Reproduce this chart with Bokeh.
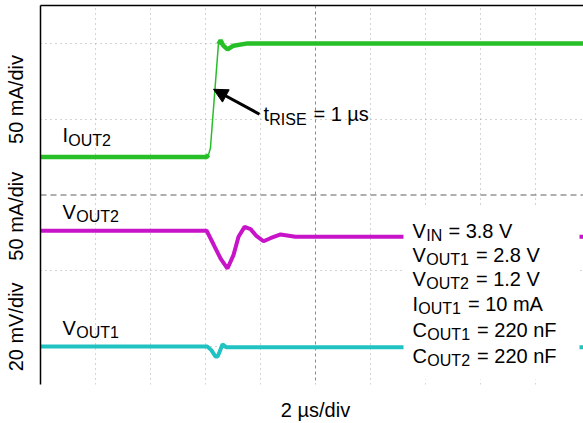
import math
from bokeh.plotting import figure
from bokeh.models import (Label, Span, BoxAnnotation, Arrow, NormalHead,
                          FixedTicker, Range1d, LinearAxis)
from bokeh.embed import file_html
from bokeh.resources import INLINE

# ---------------- data ----------------
# time in microseconds (2 us/div); vertical values in screen divisions
iout2_t   = [0.0, 6.04, 6.11, 6.18, 6.47, 6.55, 6.65, 6.80, 7.02, 7.53, 20.0]
iout2_div = [0.50, 0.50, 0.53, 0.62, 1.99, 2.04, 1.97, 1.92, 1.97, 2.00, 2.00]

vout2_t   = [0.0, 6.04, 6.29, 6.55, 6.80, 7.02, 7.20, 7.42, 7.64, 7.85, 8.11, 8.36, 8.73, 9.27, 20.0]
vout2_div = [-0.47, -0.47, -0.65, -0.84, -0.97, -0.79, -0.55, -0.42, -0.45, -0.54, -0.61, -0.57, -0.52, -0.55, -0.55]

vout1_t   = [0.0, 6.07, 6.22, 6.36, 6.44, 6.51, 6.62, 6.76, 20.0]
vout1_div = [-2.00, -2.00, -2.05, -2.13, -2.13, -2.07, -1.97, -2.01, -2.01]

grid_x = [2, 4, 6, 8, 12, 14, 16, 18]
grid_y = [-2, -1, 1, 2]
center_x = 10
center_y = 0

axis_title_pos = [1.26, -0.28, -1.74]
axis_titles = ["50 mA/div", "50 mA/div", "20 mV/div"]
x_title_pos = 10
x_title = "2 µs/div"

conditions = [
    ("V", "IN", " = 3.8 V"),
    ("V", "OUT1", " = 2.8 V"),
    ("V", "OUT2", " = 1.2 V"),
    ("I", "OUT1", " = 10 mA"),
    ("C", "OUT1", " = 220 nF"),
    ("C", "OUT2", " = 220 nF"),
]

# ---------------- layout helpers (page pixels -> data) ----------------
X0, PXX = 40.0, 27.5     # page x of t=0, px per us
Y0, PXY = 195.0, 76.0    # page y of 0 div, px per div


def px2x(px):
    return (px - X0) / PXX


def px2y(py):
    return (Y0 - py) / PXY


FONT = "Liberation Sans"
MAIN, SUB, DROP, K = 20, 16, 5, 1.03
W = {'V': 667, 'I': 278, 'O': 778, 'U': 722, 'T': 611, 'N': 722, 'C': 722,
     'R': 722, 'S': 667, 'E': 667, 't': 278, ' ': 278, '=': 584, '.': 278,
     'm': 833, 'A': 667, 'n': 556, 'F': 611, 'µ': 576, 's': 500}


def tw(s, size):
    return sum(W.get(c, 556) for c in s) * size / 1000.0


p = figure(width=583, height=423,
           x_range=Range1d(0, px2x(583)), y_range=Range1d(px2y(385), px2y(5)),
           output_backend="svg", toolbar_location=None,
           x_axis_location="above", y_axis_location="left",
           min_border_left=40, min_border_right=0, min_border_top=5,
           min_border_bottom=38)
p.outline_line_color = None
p.background_fill_color = "white"
p.border_fill_color = "white"

# top border (no ticks)
for ax in p.xaxis:
    ax.ticker = FixedTicker(ticks=[])
    ax.major_tick_in = 0
    ax.major_tick_out = 0
    ax.minor_tick_line_color = None
    ax.major_label_text_font_size = "0px"
    ax.major_label_standoff = 0
    ax.axis_line_color = "black"
    ax.axis_line_width = 1.5

# left border carrying the three rotated scale titles
ya = p.yaxis[0]
ya.ticker = FixedTicker(ticks=axis_title_pos)
ya.major_label_overrides = dict(zip(axis_title_pos, axis_titles))
ya.major_label_orientation = "parallel"
ya.major_tick_line_color = None
ya.major_tick_in = 0
ya.major_tick_out = 0
ya.minor_tick_line_color = None
ya.major_label_standoff = 13
ya.major_label_text_font = FONT
ya.major_label_text_font_size = "20px"
ya.major_label_text_color = "black"
ya.axis_line_color = "black"
ya.axis_line_width = 1.5

# bottom: no line, only the time-scale title
xb = LinearAxis(ticker=FixedTicker(ticks=[x_title_pos]),
                major_label_overrides={x_title_pos: x_title},
                axis_line_color=None, major_tick_line_color=None,
                minor_tick_line_color=None, major_tick_in=0, major_tick_out=0,
                major_label_standoff=14, major_label_text_font=FONT,
                major_label_text_font_size="20px", major_label_text_color="black")
p.add_layout(xb, "below")

p.xgrid.ticker = FixedTicker(ticks=grid_x)
p.ygrid.ticker = FixedTicker(ticks=grid_y)
for g in (p.xgrid, p.ygrid):
    g.grid_line_color = "#a8a8a8"
    g.grid_line_dash = "1 4"
    g.grid_line_width = 1

p.add_layout(Span(location=center_y, dimension="width", line_color="#606060",
                  line_dash="6 4", line_width=1.2, level="underlay"))
p.add_layout(Span(location=center_x, dimension="height", line_color="#8a8a8a",
                  line_dash="3 3", line_width=1, level="underlay"))

# traces (noisy scope bands drawn as thick lines; the fast edge is thin)
GREEN, MAGENTA, CYAN = "#27bf27", "#c814c8", "#20c2c2"
p.line(iout2_t, iout2_div, line_color=GREEN, line_width=1.5)
p.line(iout2_t[:3], iout2_div[:3], line_color=GREEN, line_width=4.5)
p.line(iout2_t[4:], iout2_div[4:], line_color=GREEN, line_width=4.5)
p.line(vout2_t, vout2_div, line_color=MAGENTA, line_width=4)
p.line(vout1_t, vout1_div, line_color=CYAN, line_width=4)

# white box behind conditions text
p.add_layout(BoxAnnotation(left=px2x(403), right=px2x(579), bottom=px2y(380),
                           top=px2y(206), fill_color="white", fill_alpha=1,
                           line_alpha=0))

# arrow
p.add_layout(Arrow(x_start=px2x(259), y_start=px2y(114), x_end=px2x(213), y_end=px2y(89),
                   line_width=3, line_color="black",
                   end=NormalHead(size=14, fill_color="black", line_color="black")))


def text_parts(x_px, base_px, parts):
    x = x_px
    for i, txt in enumerate(parts):
        sub = (i == 1)
        size = SUB if sub else MAIN
        if txt.startswith(" "):
            x += tw(" ", size) * K
            txt = txt.lstrip(" ")
        p.add_layout(Label(x=px2x(x), y=px2y(base_px + (DROP if sub else 0)), text=txt,
                           text_font=FONT, text_font_size=f"{size}px",
                           text_color="black", text_align="left",
                           text_baseline="alphabetic"))
        x += tw(txt, size) * K


text_parts(62, 135, ("I", "OUT2"))
text_parts(62, 212, ("V", "OUT2"))
text_parts(62, 328, ("V", "OUT1"))
text_parts(263, 114, ("t", "RISE", " = 1 µs"))

bases = [231, 255, 279, 304, 330, 356]
for b, parts in zip(bases, conditions):
    text_parts(412, b, parts)

open("out.html", "w").write(file_html(p, INLINE))
